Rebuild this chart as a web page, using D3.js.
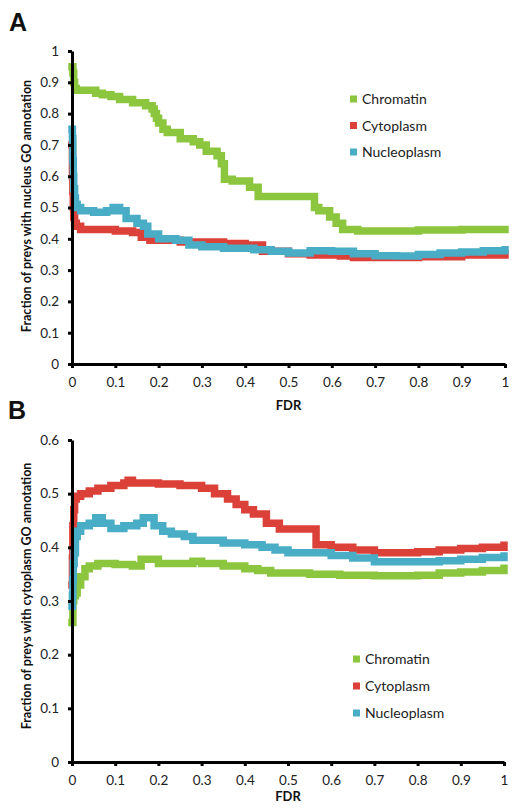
<!DOCTYPE html>
<html><head><meta charset="utf-8">
<script src="https://cdn.jsdelivr.net/npm/d3@7/dist/d3.min.js"></script>
<style>
body{margin:0;background:#fff;}
svg{display:block;font-family:Lato,"Open Sans",sans-serif;}
</style></head>
<body><svg id="c" width="518" height="810"></svg>
<script>
// ---------- DATA ----------
const seriesNames = ["Chromatin", "Cytoplasm", "Nucleoplasm"];
const seriesColors = ["#8cc63f", "#dc4139", "#4aadc6"];
const xTicks = [0,0.1,0.2,0.3,0.4,0.5,0.6,0.7,0.8,0.9,1];
const yTicksA = [0,0.1,0.2,0.3,0.4,0.5,0.6,0.7,0.8,0.9,1];
const yTicksB = [0,0.1,0.2,0.3,0.4,0.5,0.6];

// Panel A: fraction with nucleus GO annotation
const aChromatinX = [0,0.002,0.004,0.006,0.01,0.03,0.055,0.07,0.09,0.11,0.14,0.17,0.185,0.19,0.195,0.2,0.21,0.22,0.25,0.28,0.295,0.31,0.335,0.345,0.352,0.37,0.41,0.43,0.56,0.57,0.595,0.61,0.625,0.66,0.7,0.8,0.9,1.0];
const aChromatinY = [0.95,0.93,0.90,0.88,0.875,0.875,0.865,0.86,0.855,0.845,0.835,0.825,0.815,0.80,0.785,0.77,0.75,0.74,0.72,0.71,0.70,0.68,0.665,0.64,0.59,0.585,0.565,0.535,0.50,0.49,0.47,0.45,0.43,0.425,0.425,0.428,0.43,0.43];
const aCytoX = [0,0.001,0.002,0.003,0.004,0.006,0.01,0.02,0.06,0.1,0.14,0.16,0.18,0.25,0.35,0.4,0.44,0.5,0.55,0.62,0.65,0.75,0.8,0.9,1.0];
const aCytoY = [0.70,0.60,0.55,0.50,0.47,0.45,0.44,0.43,0.43,0.425,0.42,0.405,0.395,0.39,0.385,0.38,0.36,0.352,0.348,0.345,0.34,0.34,0.343,0.348,0.352];
const aNucleoX = [0,0.001,0.002,0.003,0.004,0.006,0.008,0.012,0.02,0.05,0.08,0.095,0.11,0.125,0.15,0.165,0.175,0.2,0.24,0.27,0.3,0.35,0.42,0.46,0.5,0.55,0.6,0.65,0.7,0.75,0.8,0.85,0.9,0.95,1.0];
const aNucleoY = [0.75,0.72,0.65,0.60,0.56,0.53,0.51,0.50,0.49,0.485,0.49,0.50,0.49,0.465,0.45,0.44,0.415,0.40,0.395,0.38,0.375,0.37,0.365,0.36,0.355,0.362,0.36,0.352,0.346,0.345,0.35,0.355,0.358,0.362,0.365];

// Panel B: fraction with cytoplasm GO annotation
const bChromatinX = [0,0.002,0.004,0.008,0.012,0.02,0.03,0.04,0.06,0.1,0.14,0.16,0.2,0.25,0.28,0.3,0.35,0.4,0.43,0.46,0.55,0.62,0.7,0.8,0.85,0.9,0.95,1.0];
const bChromatinY = [0.26,0.30,0.31,0.315,0.33,0.345,0.36,0.365,0.37,0.368,0.365,0.378,0.37,0.37,0.374,0.37,0.365,0.36,0.357,0.352,0.35,0.348,0.347,0.348,0.352,0.354,0.357,0.361];
const bCytoX = [0,0.001,0.002,0.004,0.006,0.01,0.02,0.04,0.06,0.09,0.12,0.13,0.14,0.2,0.25,0.3,0.33,0.36,0.38,0.4,0.42,0.45,0.48,0.565,0.6,0.65,0.7,0.8,0.85,0.9,0.95,1.0];
const bCytoY = [0.33,0.38,0.44,0.47,0.49,0.495,0.50,0.505,0.51,0.515,0.52,0.525,0.52,0.518,0.515,0.51,0.50,0.49,0.48,0.47,0.462,0.445,0.434,0.405,0.40,0.395,0.39,0.392,0.395,0.398,0.40,0.404];
const bNucleoX = [0,0.001,0.002,0.003,0.005,0.008,0.012,0.02,0.04,0.055,0.07,0.09,0.12,0.15,0.165,0.19,0.21,0.23,0.26,0.28,0.35,0.4,0.44,0.47,0.5,0.6,0.65,0.7,0.8,0.85,0.9,0.95,1.0];
const bNucleoY = [0.29,0.31,0.34,0.37,0.39,0.42,0.43,0.44,0.445,0.455,0.445,0.435,0.44,0.445,0.455,0.44,0.43,0.425,0.42,0.413,0.408,0.405,0.40,0.395,0.39,0.385,0.38,0.373,0.373,0.375,0.378,0.381,0.384];

// ---------- DRAW ----------
const svg = d3.select("#c");
const zip = (xs, ys) => xs.map((x,i)=>[x, ys[i]]);

function panel(cfg){
  const g = svg.append("g");
  const x = d3.scaleLinear().domain([0,1]).range([cfg.x0, cfg.x1]);
  const y = d3.scaleLinear().domain([0,cfg.ymax]).range([cfg.y0, cfg.y1]);
  const line = d3.line().x(d=>x(d[0])).y(d=>y(d[1])).curve(d3.curveStepAfter);
  cfg.series.forEach((s,i)=>{
    g.append("path").datum(s).attr("d", line)
      .attr("fill","none").attr("stroke", seriesColors[i])
      .attr("stroke-width", 7.5).attr("stroke-linecap","square").attr("stroke-linejoin","miter");
  });
  const ax = g.append("g").attr("transform",`translate(0,${cfg.y0})`)
    .call(d3.axisBottom(x).tickValues(xTicks).tickFormat(d3.format("")).tickSizeInner(4).tickSizeOuter(0).tickPadding(9));
  const ay = g.append("g").attr("transform",`translate(${cfg.x0},0)`)
    .call(d3.axisLeft(y).tickValues(cfg.yTicks).tickFormat(d3.format("")).tickSizeInner(4).tickSizeOuter(0).tickPadding(9));
  [ax, ay].forEach(a=>{
    a.select(".domain").attr("stroke","#000").attr("stroke-width",3);
    a.selectAll(".tick line").attr("stroke","#000").attr("stroke-width",3);
    a.selectAll(".tick text").attr("font-size",13.5).attr("fill","#222").attr("font-family","Lato, sans-serif");
  });
  g.append("text").attr("x",(cfg.x0+cfg.x1)/2).attr("y",cfg.fdrY).attr("text-anchor","middle")
    .attr("font-weight","bold").attr("font-size",13).attr("fill","#111").text("FDR");
  g.append("text").attr("transform",`translate(${cfg.titleX},${cfg.titleY}) rotate(-90)`)
    .attr("text-anchor","middle").attr("font-weight","bold").attr("font-size",12.5).attr("fill","#111").text(cfg.title);
  g.append("text").attr("x",cfg.letterX).attr("y",cfg.letterY).attr("font-family","Liberation Sans, Arial, sans-serif")
    .attr("font-weight","bold").attr("font-size",25).attr("fill","#111").text(cfg.letter);
  seriesNames.forEach((n,i)=>{
    const cy = cfg.legY + i*cfg.legDy;
    g.append("rect").attr("x",cfg.legX).attr("y",cy-3.5).attr("width",7).attr("height",7).attr("fill",seriesColors[i]);
    g.append("text").attr("x",cfg.legX+12).attr("y",cy+5).attr("font-size",14).attr("fill","#222").text(n);
  });
}

panel({x0:72,x1:505,y0:364,y1:51,ymax:1,yTicks:yTicksA,
  series:[zip(aChromatinX,aChromatinY),zip(aCytoX,aCytoY),zip(aNucleoX,aNucleoY)],
  fdrY:410,title:"Fraction of preys with nucleus GO annotation",titleX:31,titleY:206,
  letter:"A",letterX:9,letterY:31,legX:350,legY:99,legDy:26.5});
panel({x0:72,x1:504,y0:762,y1:440,ymax:0.6,yTicks:yTicksB,
  series:[zip(bChromatinX,bChromatinY),zip(bCytoX,bCytoY),zip(bNucleoX,bNucleoY)],
  fdrY:801,title:"Fraction of preys with cytoplasm GO annotation",titleX:31,titleY:596,
  letter:"B",letterX:8,letterY:419,legX:353,legY:659,legDy:27});
</script></body></html>
